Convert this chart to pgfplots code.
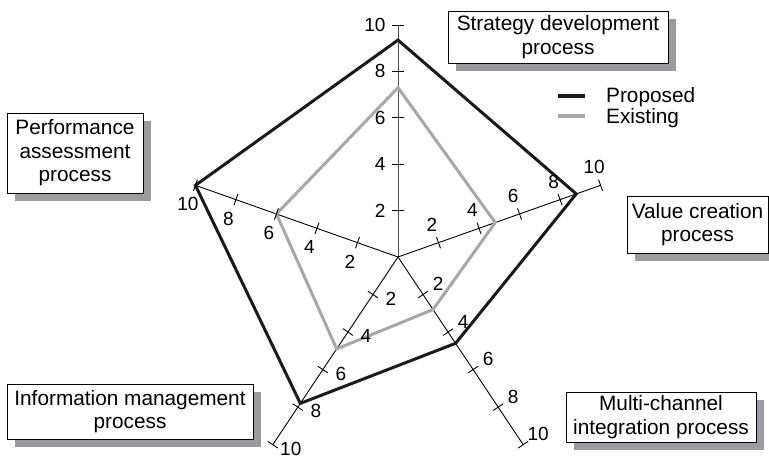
\documentclass[border=0pt]{standalone}
\usepackage{fontspec}
\setmainfont{Liberation Sans}
\usepackage{pgfplots}
\pgfplotsset{compat=1.18}
\usetikzlibrary{shadows}
\definecolor{existgray}{HTML}{A8A8A8}
\definecolor{shadowgray}{HTML}{9C9CA0}
\definecolor{propblack}{HTML}{1A1A1A}

\begin{document}
\begin{tikzpicture}[
  box/.style={draw=black, line width=0.9pt, fill=white, align=center, inner sep=0pt,
    font=\fontsize{20.8}{23.5}\selectfont,
    drop shadow={shadow xshift=8pt, shadow yshift=-8pt, fill=shadowgray, opacity=1}},
]
\begin{axis}[
  name=ax, at={(0,0)}, anchor=south west,
  width=769pt, height=457pt, scale only axis,
  xmin=-18.685, xmax=17.418, ymin=-8.621, ymax=11.078,
  axis line style={draw=none}, ticks=none,
  clip=false,
  legend style={draw=none, fill=none, at={(0.723,0.768)}, anchor=west,
    font=\fontsize{20.8}{23.5}\selectfont, inner sep=0pt, row sep=0pt,
    /tikz/every odd column/.append style={column sep=17pt}},
  legend cell align=left,
  legend image code/.code={\draw[#1, line width=4pt] (0pt,0pt) -- (27pt,0pt);},
  spoke/.style={forget plot, line width=0.9pt, black, data cs=polar},
  tk/.style 2 args={forget plot, only marks, mark=|, mark size=6pt, data cs=polar,
    mark options={rotate=#1, line width=0.9pt, black},
    point meta=explicit symbolic, nodes near coords,
    every node near coord/.style={font=\fontsize{19}{21}\selectfont, text=black,
      anchor=center, inner sep=1pt, #2}},
]
% spokes
\addplot[spoke, black!70] coordinates {(90,0) (90,10)};
\addplot[spoke] coordinates {(18,0) (18,10)};
\addplot[spoke] coordinates {(-54,0) (-54,10)};
\addplot[spoke] coordinates {(-126,0) (-126,10)};
\addplot[spoke] coordinates {(162,0) (162,10)};

% ticks + labels
\addplot[tk={90}{anchor=east, xshift=-11pt}] coordinates {(90,2)[2] (90,4)[4] (90,6)[6] (90,8)[8] (90,10)[10]};
\addplot[tk={19.4}{xshift=-6.5pt, yshift=18pt}] coordinates {(18,2)[2] (18,4)[4] (18,6)[6] (18,8)[8] (18,10)[10]};
\addplot[tk={-56.2}{xshift=15pt, yshift=10.5pt}] coordinates {(-54,2)[2] (-54,4)[4] (-54,6)[6] (-54,8)[8] (-54,10)[10]};
\addplot[tk={-123.8}{xshift=18pt, yshift=-4pt}] coordinates {(-126,2)[2] (-126,4)[4] (-126,6)[6] (-126,8)[8] (-126,10)[10]};
\addplot[tk={160.6}{xshift=-7.5pt, yshift=-19pt}] coordinates {(162,2)[2] (162,4)[4] (162,6)[6] (162,8)[8] (162,10)[10]};

% data
\addplot[propblack, line width=3pt, line join=miter, data cs=polar]
  coordinates {(90,9.35) (18,8.8) (-54,4.6) (-126,7.8) (162,10)} -- cycle;
\addplot[existgray, line width=3pt, line join=miter, data cs=polar]
  coordinates {(90,7.3) (18,4.8) (-54,2.8) (-126,4.9) (162,6)} -- cycle;
\legend{Proposed, Existing}
\end{axis}

\node[box, minimum width=220pt, minimum height=52pt] at (558pt,420pt) {Strategy development\\process};
\node[box, minimum width=141pt, minimum height=57pt] at (697.5pt,232.5pt) {Value creation\\process};
\node[box, minimum width=190pt, minimum height=50pt] at (661pt,40pt) {Multi-channel\\integration process};
\node[box, minimum width=246pt, minimum height=55pt] at (130pt,45.5pt) {Information management\\process};
\node[box, minimum width=136pt, minimum height=80pt] at (75pt,304pt) {Performance\\assessment\\process};

\pgfresetboundingbox
\path (0,0) rectangle (769pt,457pt);
\end{tikzpicture}
\end{document}
